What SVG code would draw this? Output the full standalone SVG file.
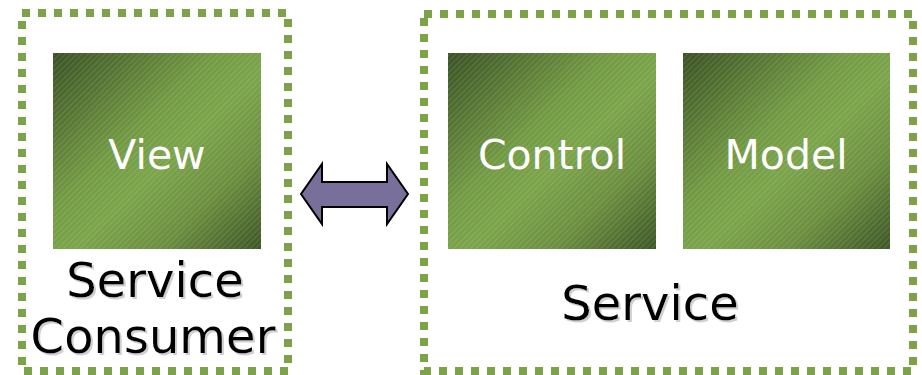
<svg xmlns="http://www.w3.org/2000/svg" width="922" height="375" viewBox="0 0 922 375">
<defs>
<linearGradient id="g" x1="0" y1="0" x2="1" y2="1">
<stop offset="0" stop-color="#3b5225"/>
<stop offset="0.4" stop-color="#739b44"/>
<stop offset="0.55" stop-color="#7ba44b"/>
<stop offset="0.75" stop-color="#6b8f3f"/>
<stop offset="1" stop-color="#3e5727"/>
</linearGradient>
<pattern id="h" width="4" height="4" patternUnits="userSpaceOnUse" patternTransform="rotate(45)">
<rect width="1" height="4" fill="#ffffff" opacity="0.12"/>
</pattern>
<filter id="sh" x="-10%" y="-10%" width="130%" height="130%">
<feOffset dx="2" dy="2" in="SourceAlpha" result="o"/>
<feColorMatrix in="o" type="matrix" values="0 0 0 0 0.6 0 0 0 0 0.6 0 0 0 0 0.6 0 0 0 0.9 0" result="c"/>
<feMerge><feMergeNode in="c"/><feMergeNode in="SourceGraphic"/></feMerge>
</filter>
</defs>
<style>
.frame{fill:none;stroke:#7ca348;stroke-width:8;stroke-dasharray:8 8}
.box{fill:url(#g)}
.hatch{fill:url(#h)}
.in{font-family:"DejaVu Sans",Verdana,sans-serif;font-size:41px;fill:#ffffff;text-anchor:middle}
.lbl{font-family:"DejaVu Sans",Verdana,sans-serif;font-size:48px;fill:#000000;text-anchor:middle;filter:url(#sh)}
</style>
<rect width="922" height="375" fill="#ffffff"/>
<g id="consumer">
<rect class="frame" x="22" y="13" width="266" height="358"/>
<text class="lbl" x="155" y="297">Service</text>
<text class="lbl" x="153" y="353">Consumer</text>
</g>
<g id="service">
<rect class="frame" x="424" y="14" width="489" height="357"/>
<text class="lbl" x="650" y="320">Service</text>
</g>
<g id="view">
<rect class="box" x="53" y="53" width="208" height="196"/>
<rect class="hatch" x="53" y="53" width="208" height="196"/>
<text class="in" x="157" y="169">View</text>
</g>
<g id="control">
<rect class="box" x="448" y="53" width="208" height="196"/>
<rect class="hatch" x="448" y="53" width="208" height="196"/>
<text class="in" x="552" y="169">Control</text>
</g>
<g id="model">
<rect class="box" x="683" y="53" width="207" height="196"/>
<rect class="hatch" x="683" y="53" width="207" height="196"/>
<text class="in" x="786" y="169">Model</text>
</g>
<g id="connectors">
<path d="M301,194 L322,164 L322,182 L387,182 L387,164 L408,194 L387,224 L387,207 L322,207 L322,224 Z" fill="#78709a" stroke="#000000" stroke-width="2" stroke-linejoin="miter"/>
</g>
</svg>
